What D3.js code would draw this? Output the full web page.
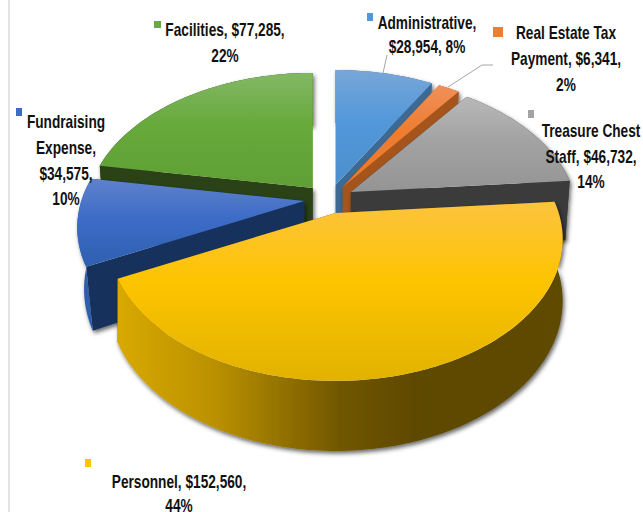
<!DOCTYPE html>
<html>
<head>
<meta charset="utf-8">
<script src="https://cdn.jsdelivr.net/npm/d3@7"></script>
<style>
  html, body { margin: 0; padding: 0; background: #fff; }
  svg { display: block; }
  text { font-family: "Liberation Sans", sans-serif; font-weight: bold; fill: #111; }
</style>
</head>
<body>
<svg id="chart" width="643" height="512"></svg>
<script>
const categories = ["Administrative", "Real Estate Tax Payment", "Treasure Chest Staff", "Personnel", "Fundraising Expense", "Facilities"];
const values = [28954, 6341, 46732, 152560, 34575, 77285];
const percents = [8, 2, 14, 44, 10, 22];
// drawn back to front
const drawOrder = ["Facilities", "Administrative", "Real Estate Tax Payment", "Treasure Chest Staff", "Fundraising Expense", "Personnel"];

const width = 643, height = 512;
const centre = { x: 329, y: 199 };
const radius = { x: 223, y: 136.5 };
const perspective = 0.187;
const explode = { x: 25, y: 14.5 };
const depth = 60;

const colors = {
  "Administrative": { top: ["#78a6d8", "#5298da", "#4c8fcd"], wall: "#3c6a94", rim: "#3c6a94", foot: 0.98 },
  "Real Estate Tax Payment": { top: ["#f0905a", "#ee7d31", "#ec7a2c"], wall: "#a5541c", rim: "#a5541c", foot: 0.98 },
  "Treasure Chest Staff": { top: ["#b8b8b8", "#a3a3a3", "#949494"], wall: "#3b3b3b", rim: "#3b3b3b", foot: 0.98 },
  "Personnel": { top: ["#fdc33f", "#fdc400", "#e2b200"], wall: "#6b5300", rim: null, foot: 1 },
  "Fundraising Expense": { top: ["#5f82cc", "#3c6cc6", "#2f5fb0"], wall: "#19305c", rim: "#2f5da9", foot: 0.97 },
  "Facilities": { top: ["#82b864", "#68a93c", "#5f9f35"], wall: "#2b4315", rim: "#2b4315", foot: 0.98 }
};

const svg = d3.select("#chart");
const defs = svg.append("defs");

const shadow = defs.append("filter").attr("id", "shadow")
  .attr("x", "-10%").attr("y", "-10%").attr("width", "120%").attr("height", "125%");
shadow.append("feDropShadow")
  .attr("dx", 1.5).attr("dy", 2.5).attr("stdDeviation", 2)
  .attr("flood-color", "#000").attr("flood-opacity", 0.6);

// left border of the chart area
svg.append("line")
  .attr("x1", 9).attr("x2", 9).attr("y1", 0).attr("y2", height)
  .attr("stroke", "#e3e3e3").attr("stroke-width", 2);

const slices = d3.pie().sort(null).value(d => d)(values);
const sliceOf = name => slices[categories.indexOf(name)];

function apexOf(s) {
  const mid = (s.startAngle + s.endAngle) / 2;
  return {
    x: centre.x + explode.x * Math.sin(mid),
    y: centre.y - explode.y * Math.cos(mid)
  };
}

// point on the top rim, with the near side of the pie drawn larger
function rimTop(a, apex) {
  const w = 1 + perspective * Math.cos(a);
  return [apex.x + radius.x * Math.sin(a) / w, apex.y - radius.y * Math.cos(a) / w];
}

// same point on the bottom rim
function rimBottom(a, apex, foot) {
  const p = rimTop(a, apex);
  return [apex.x + foot * (p[0] - apex.x), apex.y + 1.06 * (p[1] - apex.y) + depth];
}

function arcAngles(a0, a1) {
  const n = Math.ceil((a1 - a0) / 0.02);
  return d3.range(n + 1).map(i => a0 + (a1 - a0) * i / n);
}

const line = d3.line().curve(d3.curveLinearClosed);

function topGradient(id, stops, y0, y1) {
  const g = defs.append("linearGradient").attr("id", id)
    .attr("gradientUnits", "userSpaceOnUse")
    .attr("x1", 0).attr("x2", 0).attr("y1", y0).attr("y2", y1);
  stops.forEach((c, i) => g.append("stop").attr("offset", [0, 0.45, 1][i]).attr("stop-color", c));
}

const personnelRim = defs.append("linearGradient").attr("id", "personnel-rim")
  .attr("gradientUnits", "userSpaceOnUse")
  .attr("x1", 118).attr("x2", 565).attr("y1", 0).attr("y2", 0);
[[0, "#d8a900"], [0.22, "#ba9000"], [0.5, "#705600"], [0.68, "#5d4800"], [1, "#5f4b00"]]
  .forEach(d => personnelRim.append("stop").attr("offset", d[0]).attr("stop-color", d[1]));

drawOrder.forEach((name, idx) => {
  const s = sliceOf(name);
  const apex = apexOf(s);
  const col = colors[name];
  const angles = arcAngles(s.startAngle, s.endAngle);
  const g = svg.append("g").attr("class", "slice");
  const body = g.append("g").attr("filter", "url(#shadow)");

  [s.startAngle, s.endAngle].forEach(a => {
    body.append("path")
      .attr("d", line([[apex.x, apex.y], rimTop(a, apex), rimBottom(a, apex, col.foot), [apex.x, apex.y + depth]]))
      .attr("fill", col.wall);
  });
  const topArc = angles.map(a => rimTop(a, apex));
  const bottomArc = angles.map(a => rimBottom(a, apex, col.foot)).reverse();
  body.append("path")
    .attr("d", line(topArc.concat(bottomArc)))
    .attr("fill", col.rim || "url(#personnel-rim)");

  const ys = topArc.map(p => p[1]).concat([apex.y]);
  const id = "top-" + idx;
  topGradient(id, col.top, d3.min(ys), d3.max(ys));
  g.append("path")
    .attr("d", line([[apex.x, apex.y]].concat(topArc)))
    .attr("fill", "url(#" + id + ")");
});

// leader lines
const leaders = [
  [[387, 55], [383, 73]],
  [[493, 65], [482, 65], [448, 87]]
];
leaders.forEach(d => svg.append("path")
  .attr("d", d3.line()(d)).attr("fill", "none")
  .attr("stroke", "#a6a6a6").attr("stroke-width", 1));

const labels = [
  { name: "Administrative", x: 427, lines: ["Administrative,", "$28,954, 8%"], base: [29, 53], key: [367, 13, 6, 8] },
  { name: "Real Estate Tax Payment", x: 566, lines: ["Real Estate Tax", "Payment, $6,341,", "2%"], base: [39, 65, 91], key: [493, 27, 10, 10] },
  { name: "Treasure Chest Staff", x: 591, lines: ["Treasure Chest", "Staff, $46,732,", "14%"], base: [137, 163, 188], key: [528, 110, 6, 8] },
  { name: "Personnel", x: 179, lines: ["Personnel, $152,560,", "44%"], base: [488, 512], key: [85, 459, 6, 8] },
  { name: "Fundraising Expense", x: 66, lines: ["Fundraising", "Expense,", "$34,575,", "10%"], base: [128, 154, 180, 205], key: [16, 108, 6, 8] },
  { name: "Facilities", x: 225, lines: ["Facilities, $77,285,", "22%"], base: [36, 62], key: [154, 21, 7, 7] }
];

// the reference font is a condensed one, so the text is squeezed sideways
labels.forEach(l => {
  svg.append("rect")
    .attr("x", l.key[0]).attr("y", l.key[1]).attr("width", l.key[2]).attr("height", l.key[3])
    .attr("fill", colors[l.name].top[1]);
  l.lines.forEach((t, i) => svg.append("text")
    .attr("transform", `translate(${l.x},${l.base[i]}) scale(0.76,1)`)
    .attr("text-anchor", "middle")
    .attr("font-size", 18)
    .text(t));
});
</script>
</body>
</html>
